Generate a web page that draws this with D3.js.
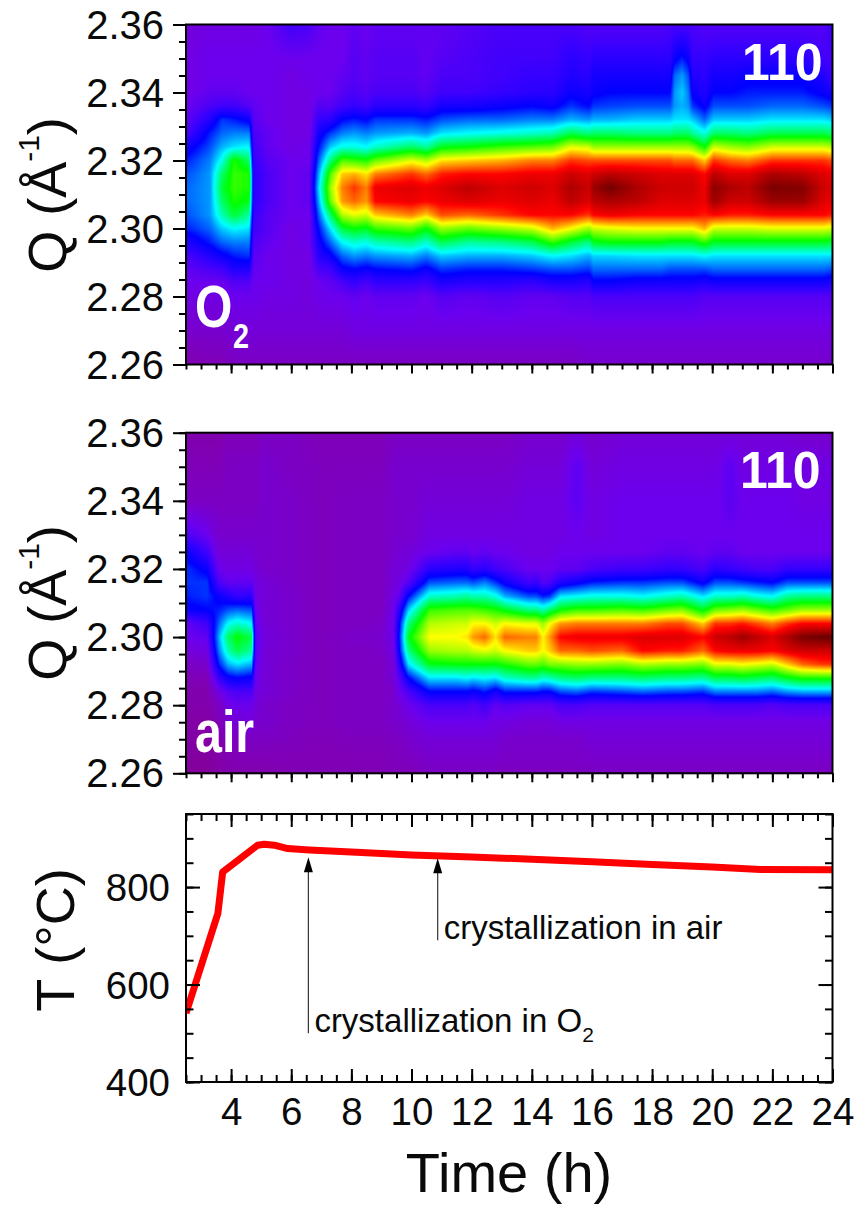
<!DOCTYPE html>
<html><head><meta charset="utf-8">
<script src="https://cdn.jsdelivr.net/npm/d3@7"></script>
<style>
html,body{margin:0;padding:0;background:#fff}
svg{display:block}
text{font-family:"Liberation Sans",Arial,sans-serif;fill:#0a0a0a}
.frame{fill:none;stroke:#000;stroke-width:2}
.domain{display:none}
.tick line{stroke:#000;stroke-width:2}
.tick text{font-size:38.5px;fill:#0a0a0a}
.qa .tick text{font-size:40px}
.white{fill:#fff;font-weight:bold}
</style></head><body>
<svg id="c" width="856" height="1205"></svg>
<script>
// ---------- axis values
const timeTicks=[4,6,8,10,12,14,16,18,20,22,24];
const qTicks=[2.26,2.28,2.30,2.32,2.34,2.36];
const tempTicks=[400,600,800];
// ---------- colour map of the intensity (levels 0..7)
const levelStops=[0,0.5,1,1.5,2,3,4,5,6,7];
const levelColors=["#860088","#7f00b8","#6c00ee","#3500ff","#0000ff","#00ffff","#00ff00","#ffff00","#ff0000","#5a0000"];
// ---------- O2 panel: Q rows (bottom to top), time columns, intensity per column
const qO2=[2.26,2.27,2.28,2.284,2.288,2.292,2.296,2.30,2.304,2.308,2.312,2.316,2.32,2.324,2.328,2.332,2.336,2.34,2.345,2.35,2.36];
const timeO2=[2.5,3.3,3.7,4.1,4.6,4.75,5.2,6,6.6,6.9,7.3,7.7,8.1,8.5,8.8,10,10.5,11,11.9,13,14,14.7,15.3,15.9,16.05,16.6,17.5,18.3,18.6,18.75,19,19.2,19.35,19.75,20.05,20.6,21.2,22,23,23.7,24];
const intensityO2=[
[.4,.7,.9,1,1.1,1.3,1.7,2.1,2.3,2.4,2.4,2.3,2.1,1.8,1.3,1.1,1,.9,.9,.9,.8],
[.5,.7,.9,1,1.3,1.7,2.1,2.4,2.6,2.6,2.6,2.6,2.5,2.3,2.1,1.7,1.3,1.1,1,1,.9],
[.5,.7,.9,1,1.4,1.9,2.4,2.8,3.3,3.6,3.8,3.6,3.1,2.7,2.4,2.2,1.4,1.1,1,1,.9],
[.6,.8,1,1.2,1.7,2.1,2.5,3,3.8,4.1,4.2,4.2,4.1,2.9,2.5,2.1,1.4,1.1,1,1,.9],
[.6,.8,1,1.2,1.7,2.2,2.5,2.9,3.4,3.9,4.1,4.1,3.6,3,2.5,1.9,1.2,1,1,1,.9],
[.6,.8,1,1,1.1,1.2,1.3,1.4,1.5,1.6,1.6,1.6,1.5,1.4,1.3,1.2,1.1,1,1,1,.9],
[.6,.8,.9,1,1,1,1.1,1.2,1.2,1.3,1.3,1.3,1.2,1.1,1.1,1,1,1,1,1,1],
[.6,.8,.9,.9,.9,.9,.9,.9,1,1,1,1,1,.9,.9,.9,.9,.9,.9,1,1.4],
[.6,.8,.85,.85,.9,.9,1,1,1,1.1,1.1,1.1,1,1,.9,.9,.9,.9,1,1,1.3],
[.6,.8,.95,1,1.3,1.6,1.8,2,2.3,2.6,2.8,2.6,2.3,2,1.8,1.5,1.2,1,1,1,1.1],
[.6,.8,1,1.1,1.4,1.9,2.4,2.9,3.6,4.4,4.6,4.3,3.5,2.8,2.2,1.6,1.2,1,1,1,1],
[.6,.8,1,1.3,1.9,2.4,3,3.8,4.7,5.4,5.5,5.2,4.3,3.1,2.5,2,1.4,1.2,1.1,1,1],
[.6,.9,1.1,1.5,2,2.6,3.2,4,4.9,5.6,5.8,5.3,4.2,3.1,2.6,2.1,1.5,1.3,1.2,1.2,1.1],
[.6,.9,1,1.3,1.9,2.5,3.1,3.9,4.8,5.4,5.5,5.1,4.1,3,2.5,2,1.4,1.2,1.1,1.1,1],
[.6,.9,1.1,1.5,2,2.6,3.3,4.2,5.2,6,6.1,5.5,4.4,3.2,2.6,2.2,1.6,1.3,1.2,1.2,1.1],
[.6,.9,1.1,1.5,2.1,2.7,3.5,4.4,5.5,6.1,6.2,5.8,4.9,3.6,2.7,2.2,1.6,1.3,1.2,1.2,1.1],
[.6,.9,1,1.4,1.9,2.5,3.2,4,5.2,6,6.1,5.6,4.7,3.4,2.6,2.1,1.5,1.2,1.1,1.1,1.1],
[.6,.9,1.2,1.7,2.2,2.8,3.7,4.6,5.7,6.1,6.2,5.9,5.1,3.9,2.9,2.3,1.8,1.4,1.3,1.2,1.1],
[.6,.9,1.1,1.6,2.1,2.7,3.4,4.4,5.6,6.2,6.4,6,5.2,4,3,2.4,1.8,1.4,1.3,1.3,1.2],
[.6,.9,1.2,1.6,2.1,2.7,3.5,4.6,5.8,6.1,6.2,6,5.3,4.2,3.1,2.4,1.9,1.5,1.4,1.4,1.3],
[.6,.9,1.1,1.5,2.2,2.8,3.7,4.8,6,6.2,6.3,6.1,5.5,4.3,3.2,2.5,2,1.6,1.5,1.4,1.3],
[.6,.9,1.1,1.7,2.3,3,4.2,5.3,6,6.1,6.2,6.1,5.5,4.4,3.3,2.5,1.9,1.6,1.5,1.4,1.3],
[.6,.9,1.2,1.7,2.3,2.9,3.8,5,6,6.4,6.5,6.3,5.8,4.9,3.7,2.7,2.2,1.9,1.7,1.6,1.3],
[.7,.9,1.2,1.6,2.2,2.7,3.5,4.6,5.8,6.2,6.3,6.2,5.7,4.8,3.5,2.6,2,1.8,1.6,1.5,1.2],
[.7,.9,1.3,1.9,2.4,2.85,3.9,4.8,6,6.4,6.6,6.3,5.7,4.6,3.6,2.7,2.2,1.9,1.8,1.6,1.2],
[.7,.9,1.3,1.9,2.4,2.85,4,4.9,6.1,6.5,6.85,6.4,5.7,4.6,3.6,2.7,2.25,2,1.8,1.6,1.2],
[.7,.9,1.3,1.8,2.4,2.9,4,5,6,6.4,6.5,6.3,5.7,4.6,3.5,2.8,2.3,2,1.8,1.6,1.2],
[.7,.9,1.3,1.8,2.4,2.9,4,5,6,6.2,6.3,6.2,5.7,4.6,3.5,2.8,2.3,2,1.8,1.6,1.2],
[.7,.9,1.3,1.8,2.3,2.9,3.9,5,6,6.2,6.3,6.2,5.7,4.6,3.5,2.8,2.3,2,1.8,1.6,1.3],
[.7,.9,1.3,1.8,2.3,2.9,3.9,5,6,6.2,6.3,6.2,5.6,4.6,3.6,2.9,2.6,2.6,2.4,1.9,1.3],
[.7,.9,1.3,1.8,2.3,2.9,3.9,5,6,6.2,6.3,6.2,5.6,4.6,3.6,2.9,2.7,2.8,2.6,2.1,1.3],
[.7,.9,1.3,1.8,2.3,2.9,3.9,5,6,6.2,6.3,6.2,5.6,4.6,3.6,2.9,2.6,2.5,2.3,1.9,1.3],
[.7,.9,1.3,1.8,2.3,2.9,3.9,5,6,6.2,6.3,6.2,5.6,4.5,3.4,2.8,2.2,1.9,1.7,1.5,1.3],
[.7,.9,1.2,1.7,2.3,3,4.2,5.3,5.9,6.1,6.1,6,5.2,4,3.1,2.4,1.9,1.7,1.6,1.5,1.2],
[.7,.9,1.2,1.8,2.4,2.9,3.9,4.8,6,6.6,6.7,6.4,5.8,4.8,3.6,2.8,2.3,2,1.8,1.6,1.2],
[.7,.9,1.2,1.8,2.4,2.9,3.9,4.8,5.9,6.3,6.5,6.2,5.6,4.6,3.6,2.8,2.3,2,1.8,1.6,1.2],
[.7,.9,1.2,1.8,2.4,2.9,3.9,4.8,5.9,6.3,6.4,6.2,5.5,4.5,3.5,2.8,2.3,2.1,1.9,1.6,1.2],
[.7,.9,1.2,1.8,2.4,2.9,3.9,4.9,6,6.6,6.8,6.5,5.8,4.8,3.7,2.9,2.4,2.1,1.9,1.6,1.2],
[.7,.9,1.2,1.8,2.4,2.9,3.9,4.9,6,6.6,6.75,6.4,5.8,4.8,3.7,2.9,2.4,2.1,1.9,1.6,1.2],
[.7,.9,1.2,1.8,2.4,2.9,3.9,4.9,6,6.2,6.3,6.2,5.8,4.8,3.7,2.9,2.3,1.9,1.7,1.4,1.2],
[.7,.9,1.2,1.7,2.3,2.9,3.8,4.8,5.9,6.1,6.2,6.1,5.7,4.7,3.6,2.8,2.2,1.8,1.4,1.3,1.5]
];
// ---------- air panel
const qAir=[2.26,2.27,2.275,2.28,2.284,2.288,2.292,2.296,2.30,2.304,2.308,2.312,2.316,2.32,2.325,2.33,2.34,2.35,2.36];
const timeAir=[2.5,3.2,3.6,3.9,4.2,4.68,4.82,5.1,6,7,8,9,9.4,9.6,9.9,10.6,11.5,11.85,12.05,12.44,12.8,13.1,13.9,14.15,14.38,14.6,14.95,15.5,16,17,17.7,18.5,19,19.7,20.1,20.6,21,21.5,22,22.5,23,23.7,24];
const intensityAir=[
[.2,.3,.3,.4,.4,.5,.6,.8,1,1.1,1.9,2.1,2.2,2.2,1.9,1.3,.6,.5,.4],
[.2,.3,.3,.4,.4,.5,.7,.9,1.1,1.4,2,2.2,2.2,1.9,1.4,1,.6,.5,.4],
[.3,.4,.5,.6,.9,1.5,2.1,2.5,2.7,2.4,2.1,1.9,1.3,1,.8,.7,.6,.5,.4],
[.4,.5,.7,.9,1.2,1.9,2.7,3.3,3.6,3,2.3,1.7,1.1,.9,.8,.7,.6,.6,.5],
[.4,.6,.8,1,1.3,2,2.9,3.7,4,3.2,2.4,1.5,1.1,.9,.8,.7,.6,.6,.5],
[.4,.6,.8,1,1.3,1.9,2.7,3.4,3.7,3,2.3,1.6,1.1,.9,.8,.7,.6,.6,.5],
[.4,.6,.7,.8,.9,1,1.1,1.2,1.2,1.1,1,.9,.9,.8,.7,.7,.6,.6,.5],
[.4,.6,.7,.7,.8,.8,.8,.8,.85,.8,.8,.8,.8,.7,.7,.7,.7,.7,.6],
[.45,.55,.6,.6,.65,.65,.65,.7,.7,.7,.7,.7,.65,.65,.65,.65,.65,.6,.6],
[.45,.5,.55,.55,.55,.55,.55,.55,.55,.55,.55,.55,.55,.55,.55,.55,.55,.55,.5],
[.45,.55,.6,.6,.6,.6,.6,.6,.65,.6,.6,.6,.6,.6,.6,.6,.6,.55,.5],
[.45,.55,.6,.6,.6,.6,.6,.65,.7,.65,.6,.6,.6,.6,.6,.6,.6,.55,.5],
[.5,.6,.7,.7,.7,.8,.8,.9,1,1,1,.9,.8,.8,.7,.7,.7,.7,.6],
[.5,.6,.7,.8,1,1.2,1.6,2,2.1,2,1.6,1.1,.9,.8,.8,.7,.7,.7,.6],
[.5,.7,.8,1,1.3,2,2.9,3.5,3.9,3.5,2.8,2,1.2,.9,.8,.7,.7,.7,.6],
[.6,.8,1,1.3,2,2.9,3.9,4.6,5,4.7,4.2,3.2,2.3,1.6,1,.9,.8,.7,.6],
[.6,.8,1,1.3,2,2.9,4,4.7,5,4.8,4.3,3.3,2.4,1.7,1.1,.9,.8,.7,.6],
[.6,.8,1,1.3,2,3,4,4.7,5.1,4.8,4.3,3.4,2.4,1.7,1.1,.9,.8,.7,.6],
[.6,.8,1,1.2,1.9,2.9,4,4.8,5.4,5,4.3,3.3,2.3,1.5,1,.9,.8,.7,.6],
[.6,.8,1,1.4,2.1,3,4,4.9,5.6,5,4.2,3.3,2.5,1.6,1.1,.9,.8,.7,.6],
[.6,.8,.9,1.1,1.8,2.9,4,4.8,5.1,4.8,4.1,3.1,2.2,1.4,1,.9,.8,.7,.6],
[.6,.7,.9,1.2,2.1,3.2,4.1,5,5.6,5,3.9,2.7,1.9,1.3,1,.9,.8,.7,.6],
[.6,.7,.8,1.1,2.1,3.4,4.4,5.2,5.5,4.9,3.5,2.3,1.4,1,.9,.9,.9,.8,.7],
[.6,.7,.8,1.1,2.1,3.4,4.4,5.2,5.5,4.9,3.5,2.3,1.5,1,.9,.9,.9,.8,.7],
[.6,.7,.8,1.1,2,3.2,4.3,5,5.05,4.6,3.3,2.1,1.2,1,.9,.9,.9,.8,.7],
[.6,.7,.8,1.1,2,3.3,4.5,5.2,5.4,5,3.6,2.2,1.3,1,.9,.9,.9,.8,.7],
[.6,.7,.9,1.3,2.3,3.5,4.5,5.6,6,5.4,4,2.9,1.7,1.1,1,.9,.9,.8,.7],
[.6,.7,.9,1.3,2.4,3.6,4.6,5.6,6.1,5.5,4.2,3,1.9,1.1,1,1,1.15,1.15,.8],
[.6,.8,.9,1.2,2.2,3.5,4.6,5.7,6.1,5.5,4.2,3.1,2.1,1.3,1,.9,.9,.8,.7],
[.6,.8,.9,1.2,2.3,3.5,4.5,5.6,6.1,5.5,4.3,3.1,2.2,1.4,1,1,1,.9,.8],
[.6,.8,.9,1.2,2.4,3.6,4.7,6,6.2,5.5,4.2,3,2.2,1.4,1,1,1,.9,.8],
[.6,.8,.9,1.2,2.3,3.5,4.6,5.9,6.2,5.7,4.4,3.2,2.3,1.5,1.1,1,1,.9,.8],
[.6,.8,.9,1.2,2.3,3.5,4.6,5.9,6.2,5.7,4.5,3.3,2.3,1.5,1.1,1,1,.9,.8],
[.6,.8,.9,1.2,2.2,3.4,4.5,5.6,6,5.2,3.9,2.9,1.9,1.3,1,1,1,.9,.8],
[.6,.8,.9,1.3,2.5,3.7,4.9,6,6.3,5.8,4.4,3.2,2.3,1.6,1.1,1,1,.9,.8],
[.6,.8,.9,1.3,2.5,3.7,4.9,6.1,6.4,5.8,4.5,3.2,2.3,1.5,1.1,1,1.15,1.15,.8],
[.6,.8,.9,1.3,2.5,3.8,5,6.1,6.6,5.9,4.6,3.3,2.2,1.4,1,1,1,.9,.8],
[.6,.8,.9,1.3,2.5,3.7,4.9,6.1,6.4,5.7,4.4,3.1,2.1,1.3,1,1,1,.9,.8],
[.6,.8,.9,1.2,2.4,3.6,4.8,6,6.2,5.5,4.2,3,2,1.3,1,1,1,.9,.8],
[.6,.8,.9,1.3,2.6,3.9,5.2,6.2,6.5,5.8,4.4,3.4,2.3,1.5,1,1,1,.9,.8],
[.6,.8,.9,1.3,2.7,4.1,5.6,6.3,6.8,6,4.6,3.5,2.3,1.5,1,1,.9,.9,.7],
[.6,.8,.9,1.3,2.7,4.1,5.8,6.3,6.9,6,4.6,3.5,2.3,1.5,1,1,.9,.9,.7],
[.6,.8,.9,1.3,2.7,4.1,5.8,6.3,6.9,6,4.6,3.5,2.3,1.5,1,1,.9,.9,.7]
];
// ---------- temperature curve
const tempTime=[2.5,3.56,3.72,4.1,4.88,5.1,5.44,5.88,6.6,8,10,12,14,16,18,20,21.6,24];
const tempValue=[541,746,831,849,886,888,886,879,876,872,866,862,857,852,846.5,841,836,835.5];
// ---------- annotations
const notes=[
 {t:6.57,from:500,to:861,label:"crystallization in O",sub:"2"},
 {t:10.87,from:691,to:859,label:"crystallization in air",sub:""}
];

const svg=d3.select("#c");
const xL=186,xR=832.5;
const x=d3.scaleLinear().domain([2.5,24]).range([xL,xR]);
const color=d3.scaleLinear().domain(levelStops).range(levelColors).clamp(true);

// per-pixel resampling of the read intensity table
function heat(times,qs,cols,y,top,bottom){
  const w=Math.round(xR-xL),h=Math.round(bottom-top);
  const cv=document.createElement("canvas");cv.width=w;cv.height=h;
  const ctx=cv.getContext("2d"),img=ctx.createImageData(w,h);
  const tIdx=d3.scaleLinear().domain(times).range(d3.range(times.length)).clamp(true);
  const qIdx=d3.scaleLinear().domain(qs).range(d3.range(qs.length)).clamp(true);
  for(let j=0;j<h;j++){
    const qv=qIdx(y.invert(top+j+.5));const q0=Math.min(Math.floor(qv),qs.length-2),fq=qv-q0;
    for(let i=0;i<w;i++){
      const tv=tIdx(x.invert(xL+i+.5));const t0=Math.min(Math.floor(tv),times.length-2),ft=tv-t0;
      const a=cols[t0][q0]*(1-fq)+cols[t0][q0+1]*fq,b=cols[t0+1][q0]*(1-fq)+cols[t0+1][q0+1]*fq;
      const c=d3.rgb(color(a*(1-ft)+b*ft));
      const k=(j*w+i)*4;img.data[k]=c.r;img.data[k+1]=c.g;img.data[k+2]=c.b;img.data[k+3]=255;
    }
  }
  ctx.putImageData(img,0,0);
  svg.append("image").attr("x",xL).attr("y",top).attr("width",w).attr("height",h).attr("href",cv.toDataURL());
}

function xAxisOut(bottom){
  svg.append("g").attr("transform",`translate(0,${bottom})`)
    .call(d3.axisBottom(x).tickValues(d3.range(2.5,24.01,.5)).tickSize(5).tickFormat(""));
  svg.append("g").attr("transform",`translate(0,${bottom})`)
    .call(d3.axisBottom(x).tickValues(timeTicks).tickSize(9).tickFormat(""));
}
function qAxis(y){
  svg.append("g").attr("transform",`translate(${xL},0)`)
    .call(d3.axisLeft(y).tickValues(d3.range(2.26,2.3601,.005)).tickSize(7).tickFormat(""));
  const g=svg.append("g").attr("class","qa").attr("transform",`translate(${xL},0)`)
    .call(d3.axisLeft(y).tickValues(qTicks).tickSize(13).tickFormat(d3.format(".2f")));
  g.selectAll("text").attr("x",-22).attr("dy",".34em");
}
function qLabel(cy){
  const t=svg.append("text").attr("transform",`translate(66,${cy}) rotate(-90)`).attr("text-anchor","middle").style("font-size","54px");
  t.append("tspan").text("Q (Å");
  t.append("tspan").attr("dy",-27).style("font-size","30px").text("-1");
  t.append("tspan").attr("dy",27).text(")");
}
function frame(top,bottom){
  svg.append("rect").attr("class","frame").attr("x",xL).attr("y",top).attr("width",xR-xL).attr("height",bottom-top);
}
function squeezed(txt,px,py,size,sx){
  svg.append("text").attr("class","white").attr("transform",`translate(${px},${py}) scale(${sx},1)`).style("font-size",size+"px").text(txt);
}

// O2 panel
const y1=d3.scaleLinear().domain([2.26,2.36]).range([364.5,24.5]);
heat(timeO2,qO2,intensityO2,y1,24.5,364.5);
frame(24.5,364.5);xAxisOut(364.5);qAxis(y1);qLabel(195);
squeezed("110",742,80,51,.98);
squeezed("O",195,327,60,.8);
squeezed("2",233,348,36,.8);

// air panel
const y2=d3.scaleLinear().domain([2.26,2.36]).range([773.3,432.7]);
heat(timeAir,qAir,intensityAir,y2,432.7,773.3);
frame(432.7,773.3);xAxisOut(773.3);qAxis(y2);qLabel(603);
squeezed("110",740,488,51,.98);
squeezed("air",195,752,59,.82);

// temperature panel
const top3=814,bot3=1082;
const y3=d3.scaleLinear().domain([400,950]).range([bot3,top3]);
const line=d3.line().x((d,i)=>x(tempTime[i])).y(d=>y3(d));
const clip=svg.append("defs").append("clipPath").attr("id","p3");
clip.append("rect").attr("x",xL).attr("y",top3).attr("width",xR-xL).attr("height",bot3-top3);
svg.append("path").attr("d",line(tempValue)).attr("fill","none").attr("stroke","#ff0000").attr("stroke-width",7).attr("stroke-linejoin","round").attr("clip-path","url(#p3)");
notes.forEach(n=>{
  svg.append("line").attr("x1",x(n.t)).attr("x2",x(n.t)).attr("y1",y3(n.from)).attr("y2",y3(n.to)+8).attr("stroke","#333").attr("stroke-width",1.2);
  svg.append("path").attr("d",`M${x(n.t)-4.5},${y3(n.to)+15}L${x(n.t)},${y3(n.to)}L${x(n.t)+4.5},${y3(n.to)+15}Z`).attr("fill","#000");
  const t=svg.append("text").attr("x",x(n.t)+6).attr("y",y3(n.from)-1).style("font-size","33px").text(n.label);
  if(n.sub) t.append("tspan").attr("dy",10).style("font-size","21px").text(n.sub);
});
frame(top3,bot3);
[[d3.axisBottom,bot3,-1],[d3.axisTop,top3,1]].forEach(([ax,py,s])=>{
  svg.append("g").attr("transform",`translate(0,${py})`).call(ax(x).tickValues(d3.range(2.5,24.01,.5)).tickSize(-7).tickFormat(""));
  const g=svg.append("g").attr("transform",`translate(0,${py})`).call(ax(x).tickValues(timeTicks).tickSize(-13).tickFormat(s<0?d3.format("d"):""));
  if(s<0) g.selectAll("text").attr("y",16).attr("dy",".71em");
});
[[d3.axisLeft,xL,true],[d3.axisRight,xR,false]].forEach(([ax,px,lab])=>{
  svg.append("g").attr("transform",`translate(${px},0)`).call(ax(y3).tickValues(d3.range(400,950.1,50)).tickSize(-7.5).tickFormat(""));
  const g=svg.append("g").attr("transform",`translate(${px},0)`).call(ax(y3).tickValues(tempTicks).tickSize(-14).tickFormat(lab?d3.format("d"):""));
  if(lab) g.selectAll("text").attr("x",-16).attr("dy",".36em");
});
svg.append("text").attr("transform","translate(74,940) rotate(-90)").attr("text-anchor","middle").style("font-size","54px").text("T (°C)");
svg.append("text").attr("x",509).attr("y",1192).attr("text-anchor","middle").style("font-size","56px").text("Time (h)");
</script></body></html>
